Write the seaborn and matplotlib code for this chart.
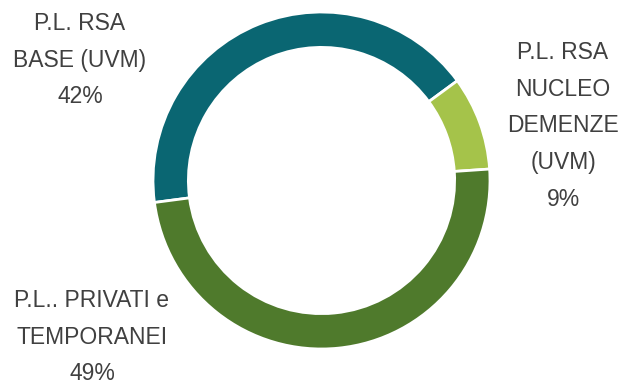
import matplotlib
matplotlib.use("Agg")
import matplotlib.pyplot as plt
import seaborn as sns

sns.set_theme(style="white")
plt.rcParams['font.family'] = ['Liberation Sans', 'DejaVu Sans']

categories = ["P.L. RSA\nBASE (UVM)", "P.L. RSA\nNUCLEO\nDEMENZE\n(UVM)", "P.L.. PRIVATI e\nTEMPORANEI"]
values = [42, 9, 49]
colors = ["#0A6672", "#A5C34A", "#4F7A2C"]

fig = plt.figure(figsize=(6.2, 3.86), dpi=100)
ax = fig.add_axes([153/620, 37/386, 337/620, 337/386])
wedges, _ = ax.pie(values, colors=colors, startangle=187.5, counterclock=False,
                   radius=1.0, wedgeprops=dict(width=0.21, edgecolor="white", linewidth=2))
ax.set_xlim(-1.0, 1.0)
ax.set_ylim(-1.0, 1.0)
ax.set_aspect("equal", adjustable="box")
ax.axis("off")

label_pos = [(80, 60), (563, 126), (92, 337)]
tcol = "#404040"
for cat, v, (px, py) in zip(categories, values, label_pos):
    fig.text(px/620, 1 - py/386, f"{cat}\n{v}%", ha="center", va="center",
             fontsize=16.5, color=tcol, linespacing=1.76)

fig.savefig("out.png", dpi=100, facecolor="white")
